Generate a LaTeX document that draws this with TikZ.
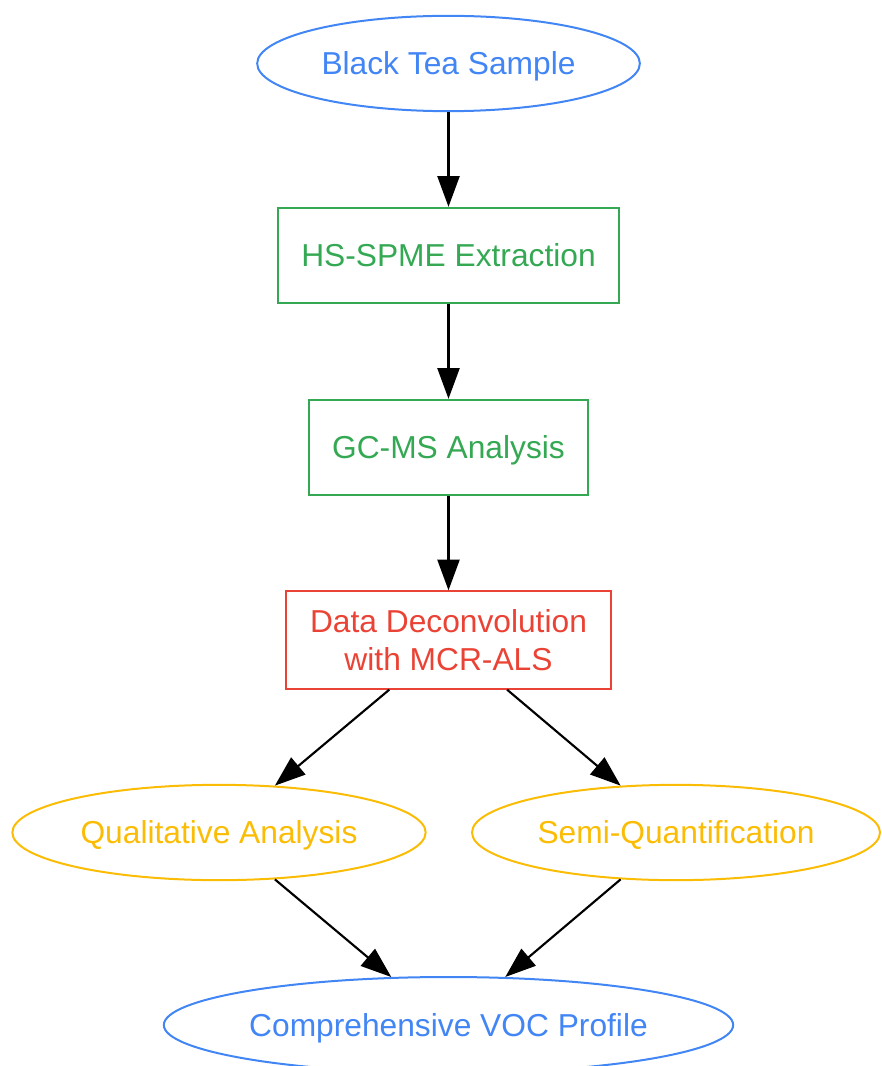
\documentclass[tikz,border=0pt]{standalone}
\usepackage{fontspec}
\setmainfont{Liberation Sans}
\usepackage{tikz}
\usetikzlibrary{arrows.meta,shapes.geometric}
\definecolor{gblue}{HTML}{4285F4}
\definecolor{ggreen}{HTML}{34A853}
\definecolor{gred}{HTML}{EA4335}
\definecolor{gyellow}{HTML}{FBBC05}

\begin{document}
\begin{tikzpicture}[x=0.75pt,y=-0.75pt,
  every node/.style={font=\fontsize{23.8}{28}\selectfont,line width=1.5pt,inner sep=0pt,align=center},
  oneline/.style={text height=22pt,text depth=5.2pt},
  oval/.style={draw,ellipse,minimum height=71.5pt,oneline},
  stepbox/.style={draw,rectangle,minimum height=71.5pt},
  arr/.style={-{Triangle[length=23pt,width=16.5pt]},line width=1.6pt,black}]
\useasboundingbox (0,0) rectangle (881,1066);
\node[oval,gblue,minimum width=287pt] (tea) at (448.5,63.5) {Black Tea Sample};
\node[stepbox,oneline,ggreen,minimum width=256pt] (spme) at (448.5,255.5) {HS-SPME Extraction};
\node[stepbox,oneline,ggreen,minimum width=209pt] (gcms) at (448.5,447.5) {GC-MS Analysis};
\node[stepbox,gred,minimum width=244pt,minimum height=73pt] (mcr) at (448.5,640) {Data Deconvolution\\with MCR-ALS};
\node[oval,gyellow,minimum width=310pt] (qual) at (219,832.5) {Qualitative Analysis};
\node[oval,gyellow,minimum width=306pt] (semi) at (676,832.5) {Semi-Quantification};
\node[oval,gblue,minimum width=427pt,minimum height=72pt] (voc) at (448.5,1025) {Comprehensive VOC Profile};
\draw[arr] (tea) -- (spme);
\draw[arr] (spme) -- (gcms);
\draw[arr] (gcms) -- (mcr);
\draw[arr] (mcr) -- (qual);
\draw[arr] (mcr) -- (semi);
\draw[arr] (qual) -- (voc);
\draw[arr] (semi) -- (voc);
\end{tikzpicture}
\end{document}
